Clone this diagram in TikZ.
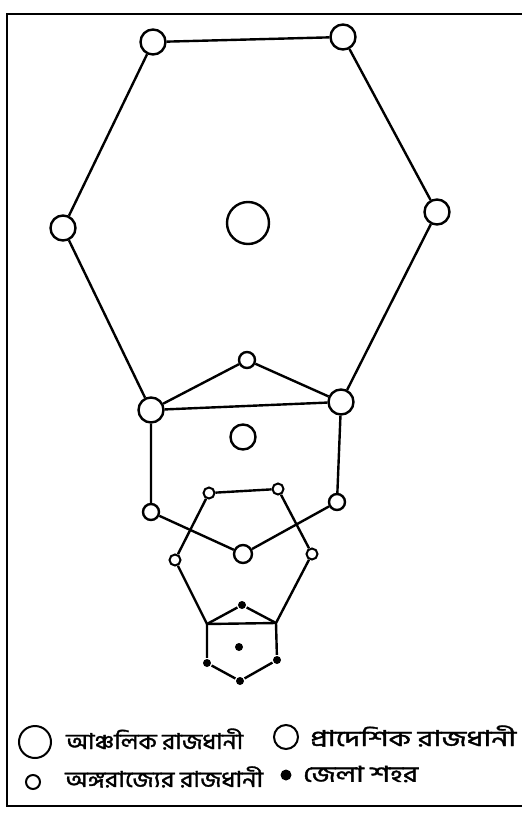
\documentclass[tikz,border=0pt]{standalone}
\usepackage{fontspec}
\newfontfamily\bnfont[Script=Bengali, FakeBold=1.4]{Hind Siliguri}
\newcommand{\legtext}[2]{\resizebox{#1}{\height}{#2}}
\begin{document}
\begin{tikzpicture}[x=1pt, y=-1pt, line width=2.4pt,
    regcap/.style={circle, draw, inner sep=0pt, minimum size=42pt},
    provcap/.style={circle, draw, inner sep=0pt, minimum size=25pt},
    statecap/.style={circle, draw, inner sep=0pt, minimum size=16pt},
    subcap/.style={circle, draw, inner sep=0pt, minimum size=11pt, line width=2pt},
    town/.style={circle, fill, inner sep=0pt, minimum size=8pt},
    legend/.style={anchor=west, inner sep=0pt, font=\bnfont\fontsize{22}{24}\selectfont}]
\useasboundingbox (0,0) rectangle (522,814);
\draw (522,14) -- (7,14) -- (7,806) -- (522,806);

% regional hexagon
\node[regcap] (rc) at (248,223) {};
\node[provcap] (h1) at (153,42) {};
\node[provcap] (h2) at (343,37) {};
\node[provcap] (h3) at (437,212) {};
\node[provcap] (h4) at (341,402) {};
\node[provcap] (h5) at (151,410) {};
\node[provcap] (h6) at (63,228) {};
\draw (h1) -- (h2) -- (h3) -- (h4) -- (h5) -- (h6) -- (h1);

% provincial hexagon
\node[provcap] (pc) at (243,437) {};
\node[statecap] (p1) at (247,360) {};
\node[statecap] (p3) at (337,502) {};
\node[statecap, minimum size=18pt] (p4) at (243,554) {};
\node[statecap] (p5) at (151,512) {};
\draw (h5) -- (p1) -- (h4) -- (p3) -- (p4) -- (p5) -- (h5);

% state hexagon
\node[subcap] (s1) at (209,493) {};
\node[subcap] (s2) at (278,489) {};
\node[subcap] (s3) at (312,554) {};
\coordinate (s4) at (276,623);
\coordinate (s5) at (207,624);
\node[subcap] (s6) at (175,560) {};
\draw (s1) -- (s2) -- (s3) -- (s4) -- (s5) -- (s6) -- (s1);

% district towns
\node[town] (dc) at (239,647) {};
\node[town] (d1) at (242,605) {};
\node[town] (d3) at (277,660) {};
\node[town] (d4) at (240,681) {};
\node[town] (d5) at (207,663) {};
\draw (s5) -- (d1) -- (s4) -- (d3) -- (d4) -- (d5) -- (s5);

% legend
\node[regcap, minimum size=32pt, line width=2pt] (k1) at (35,742) {};
\node[legend] (t1) at (65,739) {\legtext{177pt}{আঞ্চলিক রাজধানী}};
\node[provcap, minimum size=24pt, line width=2pt] (k2) at (286,737) {};
\node[legend] (t2) at (309,736) {\legtext{206pt}{প্রাদেশিক রাজধানী}};
\node[subcap, minimum size=14pt] (k3) at (33,782) {};
\node[legend] (t3) at (64,777) {\legtext{198pt}{অঙ্গরাজ্যের রাজধানী}};
\node[town, minimum size=11pt] (k4) at (286,775) {};
\node[legend] (t4) at (302,774) {\legtext{115pt}{জেলা শহর}};
\end{tikzpicture}
\end{document}
